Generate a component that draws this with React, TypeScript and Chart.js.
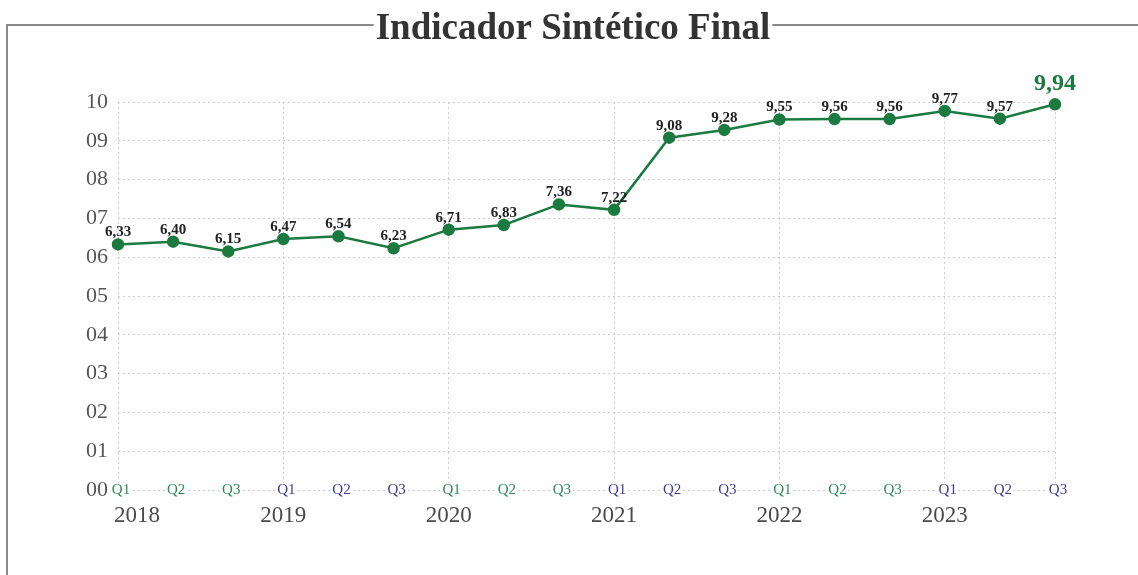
import React, { useEffect, useRef } from "react";
import { Chart, registerables } from "chart.js";

Chart.register(...registerables);

const quarters = ["Q1", "Q2", "Q3", "Q1", "Q2", "Q3", "Q1", "Q2", "Q3", "Q1", "Q2", "Q3", "Q1", "Q2", "Q3", "Q1", "Q2", "Q3"];
const years = ["2018", "2019", "2020", "2021", "2022", "2023"];
const values = [6.33, 6.40, 6.15, 6.47, 6.54, 6.23, 6.71, 6.83, 7.36, 7.22, 9.08, 9.28, 9.55, 9.56, 9.56, 9.77, 9.57, 9.94];
const yTicks = [0, 1, 2, 3, 4, 5, 6, 7, 8, 9, 10];
const title = "Indicador Sintético Final";

const GREEN = "#1b7a40";
const Q_GREEN = "#2f8a5a";
const Q_BLUE = "#3c3c96";
const SERIF = "'Liberation Serif', 'Times New Roman', serif";

const fmt = (v: number) => v.toFixed(2).replace(".", ",");

const decorPlugin = {
  id: "decor",
  beforeDraw(chart: any) {
    const ctx = chart.ctx;
    ctx.save();
    ctx.fillStyle = "#fff";
    ctx.fillRect(0, 0, chart.width, chart.height);
    // title
    ctx.font = `bold 37px ${SERIF}`;
    ctx.fillStyle = "#333";
    ctx.textAlign = "center";
    ctx.textBaseline = "alphabetic";
    const cx = 573;
    const tw = ctx.measureText(title).width;
    ctx.fillText(title, cx, 39);
    // frame
    ctx.strokeStyle = "#8a8a8a";
    ctx.lineWidth = 2;
    ctx.beginPath();
    ctx.moveTo(7, chart.height);
    ctx.lineTo(7, 25);
    ctx.lineTo(cx - tw / 2 - 2, 25);
    ctx.moveTo(cx + tw / 2 + 2, 25);
    ctx.lineTo(chart.width, 25);
    ctx.stroke();
    ctx.restore();
  },
  afterDraw(chart: any) {
    const ctx = chart.ctx;
    const xs = chart.scales.x;
    const area = chart.chartArea;
    ctx.save();
    // quarter labels
    ctx.font = `15px ${SERIF}`;
    ctx.textAlign = "center";
    ctx.textBaseline = "middle";
    quarters.forEach((q, i) => {
      const x = xs.getPixelForValue(i) + 3;
      const yearIdx = Math.floor(i / 3);
      const w = ctx.measureText(q).width;
      ctx.fillStyle = "#fff";
      ctx.fillRect(x - w / 2 - 1, area.bottom - 7, w + 2, 14);
      ctx.fillStyle = yearIdx % 2 === 0 ? Q_GREEN : Q_BLUE;
      ctx.fillText(q, x, area.bottom);
    });
    // year labels
    ctx.font = `23px ${SERIF}`;
    ctx.fillStyle = "#4a4a4a";
    years.forEach((y, k) => {
      let x = xs.getPixelForValue(k * 3);
      const w = ctx.measureText(y).width;
      if (x - w / 2 < area.left - 4) x = area.left - 4 + w / 2;
      ctx.fillText(y, x, area.bottom + 26);
    });
    // data labels
    const meta = chart.getDatasetMeta(0);
    meta.data.forEach((pt: any, i: number) => {
      const last = i === values.length - 1;
      ctx.font = last ? `bold 24px ${SERIF}` : `bold 15px ${SERIF}`;
      ctx.fillStyle = last ? GREEN : "#222";
      ctx.textBaseline = "alphabetic";
      ctx.fillText(fmt(values[i]), pt.x, pt.y - (last ? 14 : 8));
    });
    ctx.restore();
  },
};

export default function App() {
  const ref = useRef<HTMLCanvasElement>(null);
  useEffect(() => {
    if (!ref.current) return;
    const lastIdx = quarters.length - 1;
    const chart = new Chart(ref.current, {
      type: "line",
      data: {
        labels: quarters.map((q, i) => `${years[Math.floor(i / 3)]} ${q}`),
        datasets: [
          {
            data: values,
            borderColor: GREEN,
            backgroundColor: GREEN,
            borderWidth: 2.5,
            pointRadius: 5,
            pointHoverRadius: 5,
            pointBackgroundColor: GREEN,
            pointBorderColor: GREEN,
            tension: 0,
            clip: false as any,
          },
        ],
      },
      options: {
        animation: false,
        responsive: false,
        events: [],
        layout: { padding: { left: 0, right: 83, top: 102, bottom: 0 } },
        plugins: { legend: { display: false }, tooltip: { enabled: false }, title: { display: false } },
        scales: {
          x: {
            type: "category",
            offset: false,
            ticks: { display: false },
            grid: {
              drawTicks: false,
              color: (c: any) => (c.index % 3 === 0 || c.index === lastIdx ? "#cfcfcf" : "rgba(0,0,0,0)"),
              lineWidth: 1,
            },
            border: { display: false, dash: [2, 3] },
            afterFit: (s: any) => {
              s.height = 85;
            },
          },
          y: {
            min: 0,
            max: 10,
            afterBuildTicks: (s: any) => {
              s.ticks = yTicks.map((v) => ({ value: v }));
            },
            ticks: {
              padding: 10,
              color: "#555",
              font: { family: SERIF, size: 22 },
              callback: (v: any) => String(v).padStart(2, "0"),
            },
            grid: { drawTicks: false, color: "#cfcfcf", lineWidth: 1 },
            border: { display: false, dash: [2, 3] },
            afterFit: (s: any) => {
              s.width = 118;
            },
          },
        },
      },
      plugins: [decorPlugin],
    });
    return () => chart.destroy();
  }, []);
  return (
    <div style={{ position: "fixed", left: 0, top: 0, width: 1138, height: 575, background: "#fff" }}>
      <canvas ref={ref} width={1138} height={575} style={{ display: "block", width: 1138, height: 575 }} />
    </div>
  );
}
